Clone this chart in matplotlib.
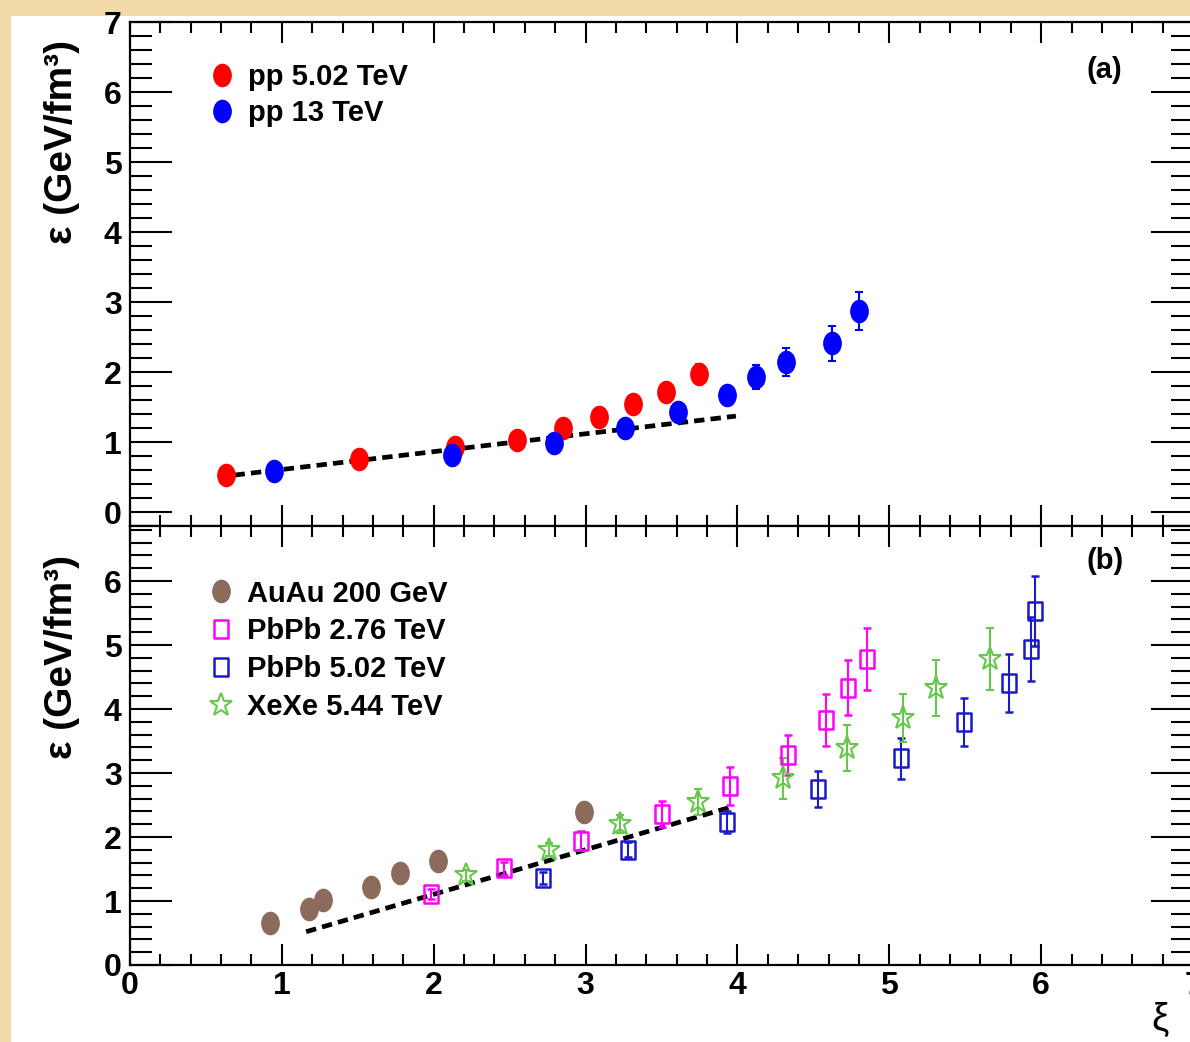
import numpy as np
import matplotlib
matplotlib.use('Agg')
import matplotlib.pyplot as plt
from matplotlib.path import Path
from matplotlib.transforms import Affine2D
from matplotlib.patches import Rectangle
from matplotlib.ticker import MultipleLocator

plt.rcParams['font.family'] = ['Liberation Sans', 'DejaVu Sans']

# ---------------- data: panel (a) ----------------
pp502_x = [0.63, 1.51, 2.14, 2.55, 2.85, 3.09, 3.31, 3.53, 3.75]
pp502_y = [0.53, 0.76, 0.93, 1.03, 1.20, 1.36, 1.54, 1.71, 1.97]
pp502_e = [0.05, 0.05, 0.06, 0.07, 0.08, 0.09, 0.10, 0.12, 0.14]

pp13_x = [0.95, 2.12, 2.79, 3.26, 3.61, 3.93, 4.12, 4.32, 4.62, 4.80]
pp13_y = [0.58, 0.81, 0.99, 1.20, 1.43, 1.67, 1.93, 2.14, 2.41, 2.87]
pp13_e = [0.05, 0.06, 0.07, 0.08, 0.10, 0.12, 0.17, 0.20, 0.25, 0.27]

fit_a_x = [0.58, 3.99]
fit_a_y = [0.50, 1.37]

# ---------------- data: panel (b) ----------------
auau_x = [0.92, 1.18, 1.27, 1.59, 1.78, 2.03, 2.99]
auau_y = [0.66, 0.87, 1.02, 1.22, 1.43, 1.63, 2.39]
auau_e = [0.04, 0.05, 0.05, 0.06, 0.07, 0.08, 0.10]

pb276_x = [1.98, 2.46, 2.97, 3.50, 3.95, 4.33, 4.58, 4.73, 4.85]
pb276_y = [1.11, 1.51, 1.94, 2.36, 2.80, 3.28, 3.83, 4.33, 4.78]
pb276_e = [0.08, 0.10, 0.15, 0.20, 0.30, 0.31, 0.40, 0.43, 0.49]

pb502_x = [2.72, 3.28, 3.93, 4.53, 5.08, 5.49, 5.79, 5.93, 5.96]
pb502_y = [1.36, 1.80, 2.23, 2.75, 3.23, 3.80, 4.41, 4.94, 5.53]
pb502_e = [0.10, 0.12, 0.17, 0.28, 0.32, 0.38, 0.45, 0.50, 0.55]

xexe_x = [2.21, 2.76, 3.23, 3.74, 4.30, 4.72, 5.09, 5.31, 5.66]
xexe_y = [1.40, 1.80, 2.20, 2.55, 2.92, 3.39, 3.86, 4.33, 4.78]
xexe_e = [0.08, 0.10, 0.14, 0.20, 0.32, 0.36, 0.37, 0.44, 0.49]

fit_b_x = [1.16, 3.96]
fit_b_y = [0.52, 2.47]

labels_a = ['pp 5.02 TeV', 'pp 13 TeV']
labels_b = ['AuAu 200 GeV', 'PbPb 2.76 TeV', 'PbPb 5.02 TeV', 'XeXe 5.44 TeV']
yticks_a = [0, 1, 2, 3, 4, 5, 6, 7]
yticks_b = [0, 1, 2, 3, 4, 5, 6]
xticks = [0, 1, 2, 3, 4, 5, 6, 7]

# ---------------- styles ----------------
ellipse = Path.unit_circle().transformed(Affine2D().scale(0.78, 1.0))
rect = Path([(-0.38, -0.5), (0.38, -0.5), (0.38, 0.5), (-0.38, 0.5), (-0.38, -0.5)],
            [Path.MOVETO, Path.LINETO, Path.LINETO, Path.LINETO, Path.CLOSEPOLY])

RED = '#ff0000'
BLUE = '#0000ff'
BROWN = '#8c6a5c'
MAGENTA = '#ff00ff'
BLUE2 = '#1a1acc'
GREEN = '#66c84a'

W, H = 1190, 1042
fig = plt.figure(figsize=(W / 100, H / 100), dpi=100)
fig.patch.set_facecolor('white')
beige = '#f3dba9'
fig.patches.append(Rectangle((0, 1 - 16 / H), 1, 16 / H, transform=fig.transFigure,
                             facecolor=beige, edgecolor='none', zorder=-10))
fig.patches.append(Rectangle((0, 0), 11 / W, 1, transform=fig.transFigure,
                             facecolor=beige, edgecolor='none', zorder=-10))

left = 130 / W
width = 1063 / W
ax_a = fig.add_axes([left, 1 - 526 / H, width, (526 - 22) / H])
ax_b = fig.add_axes([left, 1 - 965 / H, width, (965 - 526) / H])


def style_axes(ax, ylim, yt, show_x):
    ax.set_xlim(0, 7)
    ax.set_ylim(*ylim)
    ax.set_xticks(xticks)
    ax.set_yticks(yt)
    ax.xaxis.set_minor_locator(MultipleLocator(0.2))
    ax.yaxis.set_minor_locator(MultipleLocator(0.2))
    ax.tick_params(which='both', direction='in', top=True, right=True, width=1.5,
                   labelsize=23)
    ax.tick_params(axis='x', which='major', length=15)
    ax.tick_params(axis='x', which='minor', length=8)
    ax.tick_params(axis='y', which='major', length=30, pad=6)
    ax.tick_params(axis='y', which='minor', length=16)
    ax.tick_params(axis='x', pad=4)
    for s in ax.spines.values():
        s.set_linewidth(1.6)
    if not show_x:
        ax.tick_params(axis='x', labelbottom=False)
    for lab in ax.get_xticklabels() + ax.get_yticklabels():
        lab.set_fontweight('bold')


style_axes(ax_a, (-0.2, 7), yticks_a, False)
style_axes(ax_b, (0, 6.86), yticks_b, True)

eb = dict(ls='none', capsize=3, elinewidth=1.5, capthick=1.5)

# panel (a)
ax_a.plot(fit_a_x, fit_a_y, color='black', lw=3.4, dashes=(2.2, 1.3), zorder=3)
h1 = ax_a.errorbar(pp502_x, pp502_y, yerr=pp502_e, marker=ellipse, ms=16,
                   color=RED, mec=RED, mfc=RED, zorder=4, **eb)
h2 = ax_a.errorbar(pp13_x, pp13_y, yerr=pp13_e, marker=ellipse, ms=16,
                   color=BLUE, mec=BLUE, mfc=BLUE, zorder=5, **eb)
ax_a.legend([h1[0], h2[0]], labels_a, loc='upper left', bbox_to_anchor=(0.073, 0.918),
            frameon=False, prop={'size': 21, 'weight': 'bold'}, handlelength=1.0,
            handletextpad=0.4, labelspacing=0.28, borderpad=0, borderaxespad=0)
ax_a.text(0.917, 0.905, '(a)', transform=ax_a.transAxes, ha='center', va='center',
          fontsize=21, fontweight='bold')

# panel (b)
ax_b.plot(fit_b_x, fit_b_y, color='black', lw=3.4, dashes=(2.2, 1.3), zorder=3)
g1 = ax_b.errorbar(auau_x, auau_y, yerr=auau_e, marker=ellipse, ms=16,
                   color=BROWN, mec=BROWN, mfc=BROWN, zorder=4, **eb)
g2 = ax_b.errorbar(pb276_x, pb276_y, yerr=pb276_e, marker=rect, ms=13,
                   color=MAGENTA, mec=MAGENTA, mfc='none', mew=1.8, zorder=4, **eb)
g3 = ax_b.errorbar(pb502_x, pb502_y, yerr=pb502_e, marker=rect, ms=13,
                   color=BLUE2, mec=BLUE2, mfc='none', mew=1.8, zorder=4, **eb)
g4 = ax_b.errorbar(xexe_x, xexe_y, yerr=xexe_e, marker='*', ms=17,
                   color=GREEN, mec=GREEN, mfc='none', mew=1.5, zorder=4, **eb)
ax_b.legend([g1[0], g2[0], g3[0], g4[0]], labels_b, loc='upper left',
            bbox_to_anchor=(0.0715, 0.878), frameon=False,
            prop={'size': 21, 'weight': 'bold'}, handlelength=1.0,
            handletextpad=0.4, labelspacing=0.34, borderpad=0, borderaxespad=0)
ax_b.text(0.917, 0.92, '(b)', transform=ax_b.transAxes, ha='center', va='center',
          fontsize=21, fontweight='bold')

# axis titles
for yc in (142, 657):
    fig.text(62 / W, 1 - yc / H, 'ε (GeV/fm³)', rotation=90, ha='center', va='center',
             fontsize=28, fontweight='bold')
fig.text(1160 / W, 1 - 1020 / H, 'ξ', ha='center', va='center', fontsize=28)

fig.savefig('out.png', dpi=100, facecolor=fig.get_facecolor())
